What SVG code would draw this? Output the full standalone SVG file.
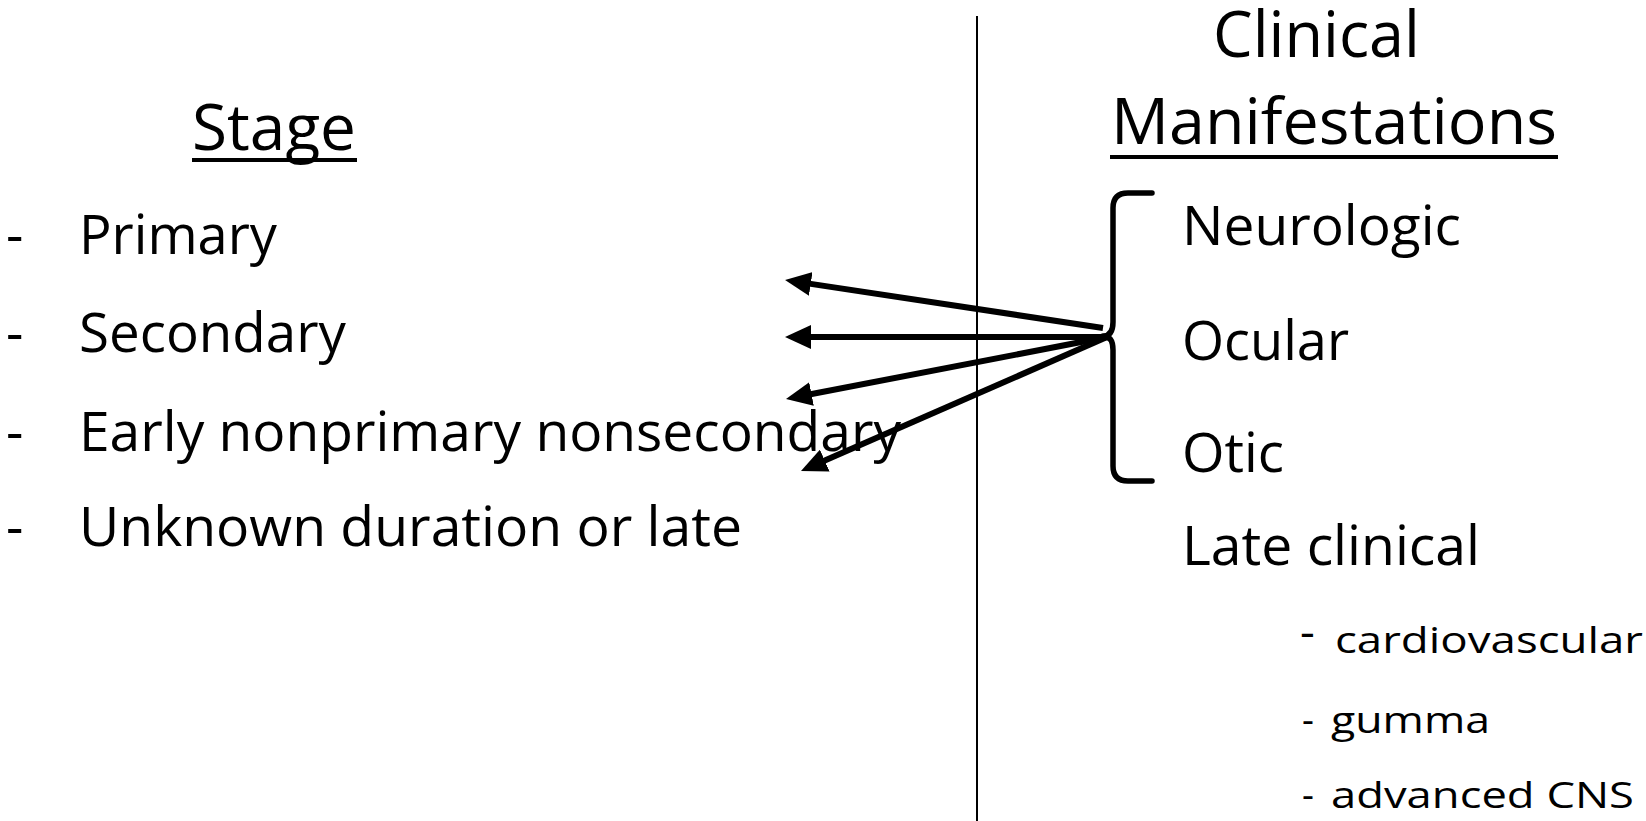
<svg xmlns="http://www.w3.org/2000/svg" width="1646" height="821" viewBox="0 0 1646 821">
<style>
text{font-family:"Open Sans","Noto Sans",sans-serif;fill:#000}
.title{font-size:64px}
.main{font-size:54px}
.small{font-size:37px}
.ul{stroke:#000;stroke-width:4}
.arrow{stroke:#000;stroke-width:6;fill:none}
.brace{stroke:#000;stroke-width:5.5;fill:none;stroke-linecap:round;stroke-linejoin:round}
</style>
<defs>
<marker id="ah" markerUnits="userSpaceOnUse" markerWidth="26" markerHeight="24" refX="5" refY="12" orient="auto">
<path d="M0,0 L26,12 L0,24 z" fill="#000"/>
</marker>
</defs>
<rect width="1646" height="821" fill="#fff"/>
<line id="divider" x1="977" y1="16" x2="977" y2="821" stroke="#000" stroke-width="2"/>
<g id="stage-header">
<text class="title" x="192" y="150" textLength="164" lengthAdjust="spacingAndGlyphs">Stage</text>
<line class="ul" x1="192" y1="160" x2="357" y2="160"/>
</g>
<g id="stage-primary"><text class="main" x="6" y="254">-</text><text class="main" x="79" y="254" textLength="198" lengthAdjust="spacingAndGlyphs">Primary</text></g>
<g id="stage-secondary"><text class="main" x="6" y="352">-</text><text class="main" x="79" y="352" textLength="267" lengthAdjust="spacingAndGlyphs">Secondary</text></g>
<g id="stage-early"><text class="main" x="6" y="451">-</text><text class="main" x="79" y="451" textLength="822" lengthAdjust="spacingAndGlyphs">Early nonprimary nonsecondary</text></g>
<g id="stage-unknown"><text class="main" x="6" y="546">-</text><text class="main" x="79" y="546" textLength="663" lengthAdjust="spacingAndGlyphs">Unknown duration or late</text></g>
<g id="clinical-header">
<text class="title" x="1213" y="57" textLength="207" lengthAdjust="spacingAndGlyphs">Clinical</text>
<text class="title" x="1111" y="144" textLength="446" lengthAdjust="spacingAndGlyphs">Manifestations</text>
<line class="ul" x1="1110" y1="157" x2="1558" y2="157"/>
</g>
<g id="brace">
<path class="brace" d="M1152,193 L1128,193 Q1113,193 1113,208 L1113,322 Q1113,336 1103,336 Q1113,336 1113,350 L1113,466 Q1113,481 1128,481 L1152,481"/>
</g>
<g id="neurologic"><text class="main" x="1182" y="245" textLength="279" lengthAdjust="spacingAndGlyphs">Neurologic</text></g>
<g id="ocular"><text class="main" x="1182" y="360" textLength="167" lengthAdjust="spacingAndGlyphs">Ocular</text></g>
<g id="otic"><text class="main" x="1182" y="472" textLength="102" lengthAdjust="spacingAndGlyphs">Otic</text></g>
<g id="late-clinical"><text class="main" x="1182" y="565" textLength="298" lengthAdjust="spacingAndGlyphs">Late clinical</text></g>
<g id="cardiovascular"><text class="small" x="1300" y="648" style="font-size:46px">-</text><text class="small" x="1335" y="653" textLength="308" lengthAdjust="spacingAndGlyphs">cardiovascular</text></g>
<g id="gumma"><text class="small" x="1302" y="733">-</text><text class="small" x="1331" y="733" textLength="159" lengthAdjust="spacingAndGlyphs">gumma</text></g>
<g id="advanced-cns"><text class="small" x="1302" y="808">-</text><text class="small" x="1331" y="808" textLength="303" lengthAdjust="spacingAndGlyphs">advanced CNS</text></g>
<g id="connectors">
<line class="arrow" x1="1103" y1="328" x2="805.8" y2="283.1" marker-end="url(#ah)"/>
<line class="arrow" x1="1107" y1="337" x2="806" y2="337" marker-end="url(#ah)"/>
<line class="arrow" x1="1107" y1="337" x2="806.6" y2="395" marker-end="url(#ah)"/>
<line class="arrow" x1="1107" y1="337" x2="820.2" y2="462.6" marker-end="url(#ah)"/>
</g>
</svg>
